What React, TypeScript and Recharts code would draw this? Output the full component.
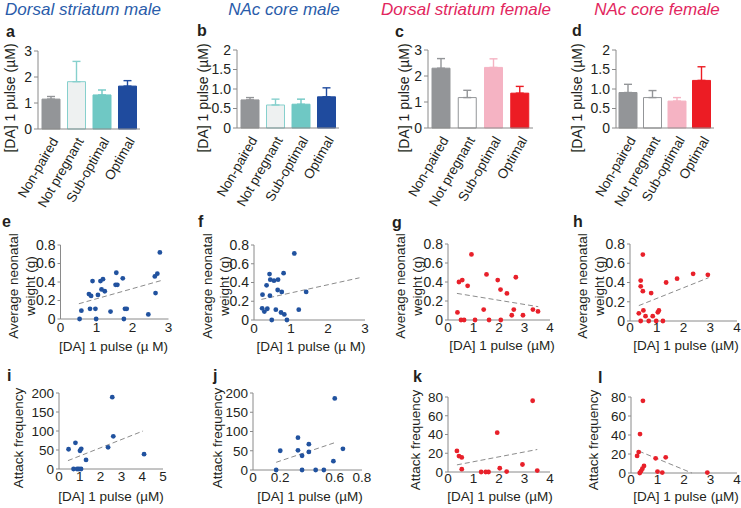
import { BarChart, Bar, ErrorBar, XAxis, YAxis, ScatterChart, Scatter, Label } from "recharts";

const INK = "#231f20";
const AXIS = "#8a8a8a";
const MALE = "#21529f";
const FEMALE = "#e8202a";
const FIT = "#8c8c8c";
const MALE_HEAD = "#2a5caa";
const FEMALE_HEAD = "#e2265e";

const categories = ["Non-paired", "Not pregnant", "Sub-optimal", "Optimal"];

// a-d: mean [DA] per group and SEM
const dsMaleMean = [1.15, 1.82, 1.31, 1.65];
const dsMaleSem = [0.1, 0.78, 0.19, 0.21];
const nacMaleMean = [0.72, 0.59, 0.61, 0.8];
const nacMaleSem = [0.06, 0.15, 0.13, 0.23];
const dsFemaleMean = [2.3, 1.17, 2.33, 1.34];
const dsFemaleSem = [0.37, 0.28, 0.33, 0.26];
const nacFemaleMean = [0.91, 0.78, 0.69, 1.22];
const nacFemaleSem = [0.21, 0.18, 0.09, 0.35];

const ticks0to3 = [0, 1, 2, 3];
const ticks0to3Text = ["0", "1", "2", "3"];
const ticks0to2 = [0, 0.5, 1, 1.5, 2];
const ticks0to2Text = ["0", "0.5", "1.0", "1.5", "2"];
const ticks0to4 = [0, 1, 2, 3, 4];
const ticks0to4Text = ["0", "1", "2", "3", "4"];
const ticks0to5 = [0, 1, 2, 3, 4, 5];
const ticks0to5Text = ["0", "1", "2", "3", "4", "5"];
const ticksJ = [0, 0.2, 0.6, 0.8];
const ticksJText = ["0", "0.2", "0.6", "0.8"];
const weightTicks = [0, 0.2, 0.4, 0.6, 0.8];
const weightTicksText = ["0", "0.2", "0.4", "0.6", "0.8"];
const attackTicks200 = [0, 50, 100, 150, 200];
const attackTicks200Text = ["0", "50", "100", "150", "200"];
const attackTicks80 = [0, 20, 40, 60, 80];
const attackTicks80Text = ["0", "20", "40", "60", "80"];

// e-h: [DA] vs average neonatal weight
const eDa = [0.53, 0.58, 0.79, 0.85, 0.82, 0.89, 0.97, 0.99, 1.04, 1.11, 1.18, 1.14, 1.23, 1.39, 1.53, 1.58, 1.55, 1.73, 1.76, 1.79, 1.84, 2.44, 2.62, 2.64, 2.69, 2.76];
const eWeight = [0, 0.09, 0.27, 0.25, 0.11, 0.41, 0.11, 0, 0.26, 0.41, 0.43, 0.32, 0.3, 0.08, 0.37, 0.37, 0.5, 0.44, 0, 0.11, 0.11, 0.05, 0.46, 0.28, 0.49, 0.72];
const eFit = [[0.51, 0.165], [2.79, 0.415]];

const fDa = [0.22, 0.23, 0.28, 0.34, 0.36, 0.42, 0.43, 0.44, 0.48, 0.54, 0.59, 0.65, 0.64, 0.73, 0.75, 0.8, 0.82, 0.89, 1.09, 1.21, 1.41];
const fWeight = [0.125, 0.27, 0.09, 0.37, 0.12, 0.49, 0.26, 0.43, 0, 0.42, 0.11, 0.43, 0.32, 0.08, 0.3, 0.5, 0.06, 0, 0.71, 0.11, 0.3];
const fFit = [[0.2, 0.22], [2.85, 0.45]];

const gDa = [0.37, 0.43, 0.56, 0.51, 0.63, 0.77, 0.92, 1.06, 1.4, 1.51, 1.61, 1.95, 2.06, 2.07, 2.31, 2.5, 2.58, 2.66, 2.94, 3.33, 3.53];
const gWeight = [0.08, 0.4, 0.42, 0, 0, 0.36, 0.69, 0, 0.11, 0.48, 0, 0.42, 0.32, 0, 0.28, 0.05, 0.11, 0.45, 0.05, 0.11, 0.09];
const gFit = [[0.35, 0.28], [3.54, 0.14]];

const hDa = [0.33, 0.4, 0.4, 0.4, 0.48, 0.48, 0.5, 0.58, 0.7, 0.79, 0.85, 0.98, 1.04, 1.08, 1.23, 1.35, 1.76, 2.36, 2.91];
const hWeight = [0.08, 0.42, 0.36, 0, 0.69, 0.31, 0.11, 0.05, 0, 0.29, 0.05, 0, 0.09, 0.11, 0, 0.4, 0.44, 0.49, 0.48];
const hFit = [[0.33, 0.16], [2.94, 0.45]];

// i-l: [DA] vs attack frequency
const iDa = [0.46, 0.7, 0.79, 0.87, 0.96, 1.01, 1.07, 1.06, 1.3, 2.36, 2.56, 2.61, 4.09];
const iAttack = [52, 0, 69, 0, 0, 48, 53, 0, 24, 57, 189, 86, 39];
const iFit = [[0.43, 22], [4.04, 100]];

const jDa = [0.17, 0.2, 0.33, 0.33, 0.36, 0.36, 0.41, 0.41, 0.46, 0.52, 0.59, 0.6, 0.66];
const jAttack = [0, 50, 84, 51, 37, 0, 67, 47, 0, 0, 23, 186, 55];
const jFit = [[0.17, 20], [0.6, 71]];

const kDa = [0.35, 0.43, 0.54, 0.54, 1.3, 1.48, 1.59, 1.93, 2.03, 2.3, 2.92, 3.32, 3.5];
const kAttack = [22.5, 17, 15.5, 3, 0, 0, 0, 42, 4, 0.5, 8, 76, 1.5];
const kFit = [[0.35, 7.6], [3.5, 24]];

const lDa = [0.23, 0.29, 0.34, 0.45, 0.33, 0.38, 0.43, 0.49, 0.93, 1.0, 1.18, 1.31, 2.88];
const lAttack = [18, 22, 41, 76, 0, 2, 4.5, 7.5, 15.5, 1.5, 0.5, 16.5, 0.5];
const lFit = [[0.3, 23], [2.3, 0]];

const maleBars = [
  { fill: "#939598", stroke: "#939598" },
  { fill: "#eef1f1", stroke: "#86d0cd" },
  { fill: "#6fc8c4", stroke: "#6fc8c4" },
  { fill: "#1f4b9e", stroke: "#1f4b9e" },
];
const femaleBars = [
  { fill: "#939598", stroke: "#939598" },
  { fill: "#ffffff", stroke: "#939598" },
  { fill: "#f5b3c3", stroke: "#f5b3c3" },
  { fill: "#ec1c24", stroke: "#ec1c24" },
];

type Box = { x0: number; x1: number; y0: number; y1: number };
const PAD_R = 12;

function place(box: Box, left: number, bottom: number, top: number) {
  return {
    left: box.x0 - left,
    top: box.y0 - top,
    width: left + box.x1 - box.x0 + PAD_R,
    height: top + box.y1 - box.y0 + bottom,
  };
}

// axis title drawn at a fixed spot in chart coords
function axisTitle(lines: string[], x: number, y: number, rotate: boolean, size = 13.5) {
  return (
    <Label
      content={() => (
        <text
          x={x}
          y={y}
          fontSize={size}
          fill={INK}
          textAnchor="middle"
          dominantBaseline="central"
          transform={rotate ? `rotate(-90 ${x} ${y})` : undefined}
        >
          {lines.map((l, i) => (
            <tspan key={l} x={x} dy={i === 0 ? -(lines.length - 1) * 8.5 : 17}>
              {l}
            </tspan>
          ))}
        </text>
      )}
    />
  );
}

function CatTick(props: any) {
  const { x, y, payload } = props;
  const ax = x + 8;
  const ay = y + 10;
  return (
    <text x={ax} y={ay} transform={`rotate(-60 ${ax} ${ay})`} textAnchor="end" fontSize={13.5} fill={INK}>
      {payload.value}
    </text>
  );
}

function BarPanel({ box, means, sems, styles, yMax, yTicks, yTickText, titleX }: any) {
  const L = box.x0 - titleX + 14;
  const B = 90;
  const T = 10;
  const pos = place(box, L, B, T);
  const rows = categories.map((name, i) => ({ name, [`v${i}`]: means[i], [`e${i}`]: [0, sems[i]] }));
  return (
    <div style={{ position: "absolute", left: pos.left, top: pos.top }}>
      <BarChart width={pos.width} height={pos.height} data={rows} margin={{ top: T, right: PAD_R, left: 0, bottom: 0 }}>
        <XAxis dataKey="name" height={B} axisLine={{ stroke: AXIS }} tickLine={false} tickSize={0} interval={0} tick={<CatTick />} />
        <YAxis
          width={L}
          domain={[0, yMax]}
          ticks={yTicks}
          interval={0}
          tickFormatter={(v: number) => yTickText[yTicks.indexOf(v)]}
          axisLine={{ stroke: AXIS }}
          tickLine={{ stroke: AXIS }}
          tickSize={4}
          tickMargin={2}
          tick={{ fontSize: 14, fill: INK }}
        >
          {axisTitle(["[DA] 1 pulse (µM)"], titleX - pos.left, 98 - pos.top, true, 14)}
        </YAxis>
        {categories.map((_, i) => (
          <Bar
            key={i}
            dataKey={`v${i}`}
            stackId="g"
            barSize={18}
            fill={styles[i].fill}
            stroke={styles[i].stroke}
            strokeWidth={1}
            isAnimationActive={false}
          >
            <ErrorBar dataKey={`e${i}`} width={4} stroke={styles[i].stroke} strokeWidth={1.4} />
          </Bar>
        ))}
      </BarChart>
    </div>
  );
}

function ScatterPanel(p: any) {
  const L = p.box.x0 - p.yTitleX + (p.yTitle.length > 1 ? 22 : 12);
  const B = 36;
  const T = 18;
  const pos = place(p.box, L, B, T);
  const pts = p.xs.map((x: number, i: number) => ({ x, y: p.ys[i] }));
  const fit = p.fit.map(([x, y]: number[]) => ({ x, y }));
  return (
    <div style={{ position: "absolute", left: pos.left, top: pos.top }}>
      <ScatterChart width={pos.width} height={pos.height} margin={{ top: T, right: PAD_R, left: 0, bottom: 0 }}>
        <XAxis
          type="number"
          dataKey="x"
          domain={[0, p.xMax]}
          ticks={p.xTicks}
          tickFormatter={(v: number) => p.xTickText[p.xTicks.indexOf(v)]}
          height={B}
          axisLine={{ stroke: AXIS }}
          tickLine={false}
          tickSize={0}
          tickMargin={p.tickGap ?? 3}
          tick={{ fontSize: 13.5, fill: INK }}
          interval={0}
        >
          {axisTitle([p.xTitle], p.xTitleX - pos.left, p.xTitleY - pos.top, false)}
        </XAxis>
        <YAxis
          type="number"
          dataKey="y"
          width={L}
          domain={[0, p.yMax]}
          ticks={p.yTicks}
          tickFormatter={(v: number) => p.yTickText[p.yTicks.indexOf(v)]}
          axisLine={{ stroke: AXIS }}
          tickLine={{ stroke: AXIS }}
          tickSize={3}
          tickMargin={2}
          tick={{ fontSize: p.yTickSize ?? 13.5, fill: INK }}
          interval={0}
        >
          {axisTitle(p.yTitle, p.yTitleX - pos.left, p.yTitleY - pos.top, true)}
        </YAxis>
        <Scatter
          data={fit}
          line={{ stroke: FIT, strokeDasharray: "5 3", strokeWidth: 1 }}
          shape={() => <g />}
          isAnimationActive={false}
        />
        <Scatter
          data={pts}
          fill={p.color}
          shape={(s: any) => <circle cx={s.cx} cy={s.cy} r={2.4} fill={p.color} />}
          isAnimationActive={false}
        />
      </ScatterChart>
    </div>
  );
}

const weightTitle = ["Average neonatal", "weight (g)"];
const attackTitle = ["Attack frequency"];

export default function App() {
  const heads = [
    { text: "Dorsal striatum male", cx: 83, color: MALE_HEAD },
    { text: "NAc core male", cx: 284, color: MALE_HEAD },
    { text: "Dorsal striatum female", cx: 466, color: FEMALE_HEAD },
    { text: "NAc core female", cx: 657, color: FEMALE_HEAD },
  ];
  const letters = [
    ["a", 6, 24], ["b", 197, 23], ["c", 395, 24], ["d", 572, 23],
    ["e", 2, 214], ["f", 198, 214], ["g", 392, 215], ["h", 573, 214],
    ["i", 7, 368], ["j", 213, 368], ["k", 413, 369], ["l", 598, 370],
  ] as const;

  return (
    <div
      style={{
        position: "absolute",
        left: 0,
        top: 0,
        width: 741,
        height: 508,
        background: "#fff",
        overflow: "hidden",
        fontFamily: '"Liberation Sans", Arial, Helvetica, sans-serif',
      }}
    >
      {heads.map((h) => (
        <div
          key={h.text}
          style={{
            position: "absolute",
            left: h.cx - 100,
            top: 0,
            width: 200,
            textAlign: "center",
            fontStyle: "italic",
            fontSize: 17,
            lineHeight: "20px",
            color: h.color,
          }}
        >
          {h.text}
        </div>
      ))}
      {letters.map(([t, x, y]) => (
        <div key={t} style={{ position: "absolute", left: x, top: y, fontSize: 16, fontWeight: "bold", lineHeight: "16px", color: INK }}>
          {t}
        </div>
      ))}

      <BarPanel box={{ x0: 38, x1: 140, y0: 51, y1: 129 }} means={dsMaleMean} sems={dsMaleSem} styles={maleBars} yMax={3} yTicks={ticks0to3} yTickText={ticks0to3Text} titleX={10} />
      <BarPanel box={{ x0: 237, x1: 339, y0: 50, y1: 128 }} means={nacMaleMean} sems={nacMaleSem} styles={maleBars} yMax={2} yTicks={ticks0to2} yTickText={ticks0to2Text} titleX={203} />
      <BarPanel box={{ x0: 428, x1: 533, y0: 50, y1: 128 }} means={dsFemaleMean} sems={dsFemaleSem} styles={femaleBars} yMax={3} yTicks={ticks0to3} yTickText={ticks0to3Text} titleX={404} />
      <BarPanel box={{ x0: 616, x1: 714, y0: 50, y1: 128 }} means={nacFemaleMean} sems={nacFemaleSem} styles={femaleBars} yMax={2} yTicks={ticks0to2} yTickText={ticks0to2Text} titleX={577} />

      <ScatterPanel box={{ x0: 60, x1: 168, y0: 245, y1: 319 }} xs={eDa} ys={eWeight} fit={eFit} color={MALE}
        xMax={3} xTicks={ticks0to3} xTickText={ticks0to3Text} yMax={0.8} yTicks={weightTicks} yTickText={weightTicksText} yTickSize={14}
        yTitle={weightTitle} yTitleX={20.5} yTitleY={286} xTitle="[DA] 1 pulse (µ M)" xTitleX={113} xTitleY={346} />
      <ScatterPanel box={{ x0: 254, x1: 365, y0: 245, y1: 320 }} xs={fDa} ys={fWeight} fit={fFit} color={MALE}
        xMax={3} xTicks={ticks0to3} xTickText={ticks0to3Text} yMax={0.8} yTicks={weightTicks} yTickText={weightTicksText} yTickSize={14}
        yTitle={weightTitle} yTitleX={215} yTitleY={286} xTitle="[DA] 1 pulse (µ M)" xTitleX={311} xTitleY={346} />
      <ScatterPanel box={{ x0: 448, x1: 550, y0: 244, y1: 320 }} xs={gDa} ys={gWeight} fit={gFit} color={FEMALE}
        xMax={4} xTicks={ticks0to4} xTickText={ticks0to4Text} yMax={0.8} yTicks={weightTicks} yTickText={weightTicksText} yTickSize={14}
        yTitle={weightTitle} yTitleX={408} yTitleY={286} xTitle="[DA] 1 pulse (µM)" xTitleX={502} xTitleY={345} tickGap={2} />
      <ScatterPanel box={{ x0: 630, x1: 737, y0: 244, y1: 321 }} xs={hDa} ys={hWeight} fit={hFit} color={FEMALE}
        xMax={4} xTicks={ticks0to4} xTickText={ticks0to4Text} yMax={0.8} yTicks={weightTicks} yTickText={weightTicksText} yTickSize={14}
        yTitle={weightTitle} yTitleX={590} yTitleY={286} xTitle="[DA] 1 pulse (µM)" xTitleX={686} xTitleY={345} tickGap={1} />

      <ScatterPanel box={{ x0: 59, x1: 163, y0: 393, y1: 469 }} xs={iDa} ys={iAttack} fit={iFit} color={MALE}
        xMax={5} xTicks={ticks0to5} xTickText={ticks0to5Text} yMax={200} yTicks={attackTicks200} yTickText={attackTicks200Text}
        yTitle={attackTitle} yTitleX={18} yTitleY={438} xTitle="[DA] 1 pulse (µM)" xTitleX={111} xTitleY={496} tickGap={2} />
      <ScatterPanel box={{ x0: 253, x1: 362, y0: 393, y1: 470 }} xs={jDa} ys={jAttack} fit={jFit} color={MALE}
        xMax={0.8} xTicks={ticksJ} xTickText={ticksJText} yMax={200} yTicks={attackTicks200} yTickText={attackTicks200Text}
        yTitle={attackTitle} yTitleX={217} yTitleY={438} xTitle="[DA] 1 pulse (µM)" xTitleX={310} xTitleY={496} tickGap={2} />
      <ScatterPanel box={{ x0: 448, x1: 550, y0: 397, y1: 472 }} xs={kDa} ys={kAttack} fit={kFit} color={FEMALE}
        xMax={4} xTicks={ticks0to4} xTickText={ticks0to4Text} yMax={80} yTicks={attackTicks80} yTickText={attackTicks80Text}
        yTitle={attackTitle} yTitleX={415} yTitleY={440} xTitle="[DA] 1 pulse (µM)" xTitleX={500} xTitleY={496} tickGap={1} />
      <ScatterPanel box={{ x0: 631, x1: 737, y0: 397, y1: 473 }} xs={lDa} ys={lAttack} fit={lFit} color={FEMALE}
        xMax={4} xTicks={ticks0to4} xTickText={ticks0to4Text} yMax={80} yTicks={attackTicks80} yTickText={attackTicks80Text}
        yTitle={attackTitle} yTitleX={593} yTitleY={440} xTitle="[DA] 1 pulse (µM)" xTitleX={686} xTitleY={496} tickGap={1} />
    </div>
  );
}
